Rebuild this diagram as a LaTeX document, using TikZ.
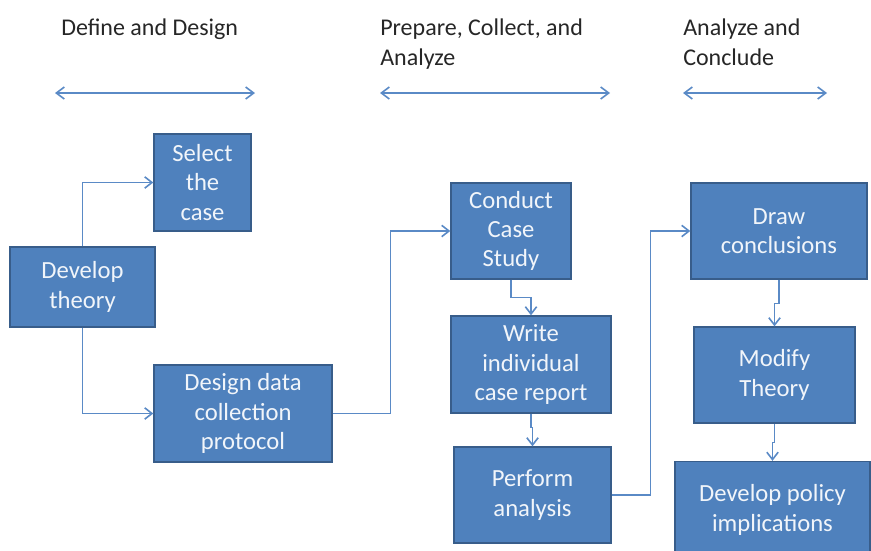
\documentclass[tikz,border=0pt]{standalone}
\usepackage{fontspec}
\setmainfont{Carlito}
\usepackage{xcolor}
\usepackage{tikz}
\usetikzlibrary{arrows.meta}

\definecolor{boxblue}{HTML}{4F81BD}
\definecolor{boxedge}{HTML}{385D8A}
\definecolor{linkblue}{HTML}{5A8AC6}

\begin{document}
\begin{tikzpicture}[x=0.75pt,y=-0.75pt,
  stage/.style={draw=boxedge,fill=boxblue,text=white!92!boxblue,align=center,inner sep=0pt,
    line width=1pt,font=\fontsize{18.5}{22}\selectfont},
  wh/.style 2 args={minimum width=#1*0.75pt,minimum height=#2*0.75pt},
  phase/.style={anchor=north west,align=left,inner sep=0pt,text=black!85,
    font=\fontsize{18}{22.5}\selectfont},
  link/.style={draw=linkblue,line width=1.2pt,-{Straight Barb[length=5.5pt,width=8.5pt]}},
  span/.style={draw=linkblue,line width=1.2pt,
    {Straight Barb[length=6pt,width=9pt]}-{Straight Barb[length=6pt,width=9pt]}}]

\clip (0,0) rectangle (871,550);

% phase headings
\node[phase] (define) at (61,19) {Define and Design};
\node[phase] (prepare) at (380,19) {Prepare, Collect, and\\Analyze};
\node[phase] (conclude) at (683,19) {Analyze and\\Conclude};

\coordinate (defineL) at (55,93);
\coordinate (defineR) at (255,93);
\coordinate (prepareL) at (380,93);
\coordinate (prepareR) at (610,93);
\coordinate (concludeL) at (683,93);
\coordinate (concludeR) at (827,93);
\draw[span] (defineL) -- (defineR);
\draw[span] (prepareL) -- (prepareR);
\draw[span] (concludeL) -- (concludeR);

% boxes
\node[stage,wh={145}{80}] (devtheory) at (82.5,287) {Develop\\theory};
\node[stage,wh={97}{97}] (select) at (202.5,182.5) {Select\\the\\case};
\node[stage,wh={178}{97}] (design) at (243,413.5) {Design data\\collection\\protocol};
\node[stage,wh={120}{96}] (conduct) at (511,231) {Conduct\\Case\\Study};
\node[stage,wh={160}{97}] (write) at (531,364.5) {Write\\individual\\case report};
\node[stage,wh={157}{96}] (perform) at (532.5,495) {Perform\\analysis};
\node[stage,wh={176}{96}] (draw) at (779,231) {Draw\\conclusions};
\node[stage,wh={161}{96}] (modify) at (774.5,375) {Modify\\Theory};
\node[stage,wh={195}{97}] (policy) at (772.5,510) {Develop policy\\implications};

% connectors
\draw[link] (devtheory.north) |- (select.west);
\draw[link] (devtheory.south) |- (design.west);
\draw[link] (design.east) -- ++(58,0) |- (conduct.west);
\draw[link] (conduct.south) -- ++(0,18) -| (write.north);
\draw[link] (write.south) -- ++(0,14) -| (perform.north);
\draw[link] (perform.east) -- ++(39,0) |- (draw.west);
\draw[link] (draw.south) -- ++(0,24) -| (modify.north);
\draw[link] (modify.south) -- ++(0,19) -| (policy.north);

\end{tikzpicture}
\end{document}
